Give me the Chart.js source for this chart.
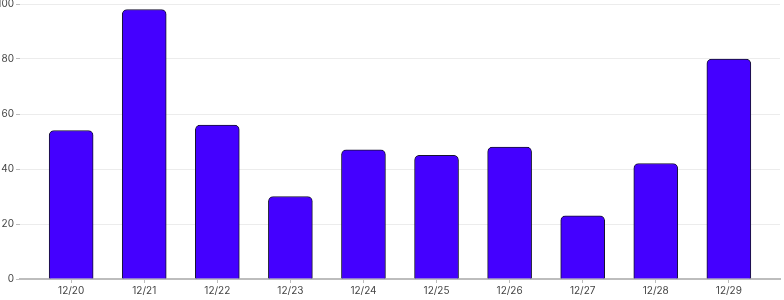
<!DOCTYPE html>
<html>
<head>
<meta charset="utf-8">
<script src="https://cdn.jsdelivr.net/npm/chart.js@4.4.1/dist/chart.umd.min.js"></script>
<style>
  html, body { margin: 0; padding: 0; background: #ffffff; }
  #wrap { width: 784px; height: 300px; position: relative; }
</style>
</head>
<body>
<div id="wrap"><canvas id="chart"></canvas></div>
<script>
// Daily counts, 12/20 – 12/29
const dates = ['12/20', '12/21', '12/22', '12/23', '12/24', '12/25', '12/26', '12/27', '12/28', '12/29'];
const counts = [54, 98, 56, 30, 47, 45, 48, 23, 42, 80];
const yTicks = [0, 20, 40, 60, 80, 100];

const points = counts.map((v, i) => ({ x: i, y: v }));

new Chart(document.getElementById('chart'), {
  type: 'bar',
  data: {
    datasets: [{
      data: points,
      backgroundColor: '#4400ff',
      borderColor: '#16132e',
      borderWidth: 1,
      borderRadius: { topLeft: 5, topRight: 5, bottomLeft: 0, bottomRight: 0 },
      borderSkipped: 'bottom',
      barThickness: 44
    }]
  },
  options: {
    responsive: true,
    maintainAspectRatio: false,
    animation: false,
    layout: { padding: { top: 4, right: 4, left: 0, bottom: 0 } },
    plugins: { legend: { display: false }, tooltip: { enabled: false } },
    scales: {
      x: {
        type: 'linear',
        offset: false,
        min: -0.7,
        max: 9.7,
        afterBuildTicks: (scale) => { scale.ticks = dates.map((_, i) => ({ value: i })); },
        afterFit: (scale) => { scale.height = 21; scale.paddingLeft = 0; scale.paddingRight = 0; },
        ticks: {
          callback: (v) => dates[v],
          font: { family: 'Inter', size: 10 },
          color: '#444',
          padding: 2,
          maxRotation: 0,
          autoSkip: false
        },
        grid: { offset: false, drawOnChartArea: false, drawTicks: true, tickLength: 4, color: '#bdbdbd' },
        border: { display: true, color: '#bdbdbd', width: 2 }
      },
      y: {
        min: 0,
        max: 100,
        afterBuildTicks: (scale) => { scale.ticks = yTicks.map(v => ({ value: v })); },
        afterFit: (scale) => { scale.width = 20; scale.paddingTop = 0; scale.paddingBottom = 0; },
        ticks: {
          font: { family: 'Inter', size: 10 },
          color: '#444',
          padding: 2
        },
        grid: { color: '#ececec', tickLength: 4, tickColor: '#bdbdbd' },
        border: { display: false }
      }
    }
  }
});
</script>
</body>
</html>
